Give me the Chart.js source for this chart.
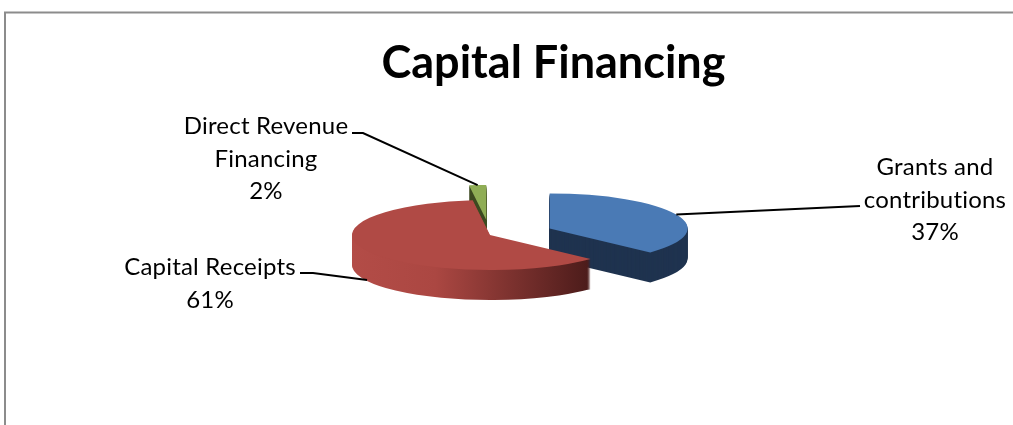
<!DOCTYPE html>
<html>
<head>
<meta charset="utf-8">
<script src="https://cdn.jsdelivr.net/npm/chart.js@4/dist/chart.umd.min.js"></script>
<style>
  html, body { margin: 0; padding: 0; background: #fff; }
  canvas { display: block; }
</style>
</head>
<body>
<canvas id="myChart" width="1013" height="425"></canvas>
<script>
const categories = [["Grants and", "contributions"], ["Capital Receipts"], ["Direct Revenue", "Financing"]];
const shares = [37, 61, 2];
const topColors = ["#4a7ab5", "#b04a45", "#8fad55"];
const sideColors = ["#1f334f", ["#b34c47", "#ab4742", "#4b1b1a"], "#3e4b22"];
const explode = [65, 0, 59];

// label layout: text centre x, first baseline y, leader points (from pie outwards)
const labelLayout = [
    { x: 935, y: 175, leader: [[860, 206]], depth: 0 },
    { x: 210, y: 275, leader: [[313, 273], [300, 273]], depth: 29 },
    { x: 266, y: 134, leader: [[363, 133], [352, 133]], depth: 0 },
];

const pieX = 490;
const pieY = 235;
const tilt = 0.254;
const depth = 30;
const drawOrder = [2, 0, 1];

const ctx = document.querySelector("#myChart");

// flat pie -> tilted view, slice pushed out along its middle angle
function project(c, arc, i, d) {
    const mid = (arc.startAngle + arc.endAngle) / 2;
    c.translate(pieX, pieY + d);
    c.scale(1, tilt);
    c.translate(Math.cos(mid) * explode[i] - arc.x, Math.sin(mid) * explode[i] - arc.y);
}

function sideFill(c, arc, i) {
    const col = sideColors[i];
    if (!Array.isArray(col)) return col;
    const r = arc.outerRadius;
    const g = c.createLinearGradient(arc.x - r, 0, arc.x + r * 0.73, 0);
    g.addColorStop(0, col[0]);
    g.addColorStop(0.35, col[1]);
    g.addColorStop(1, col[2]);
    return g;
}

function rimPoint(arc, i, d) {
    const mid = (arc.startAngle + arc.endAngle) / 2;
    const px = Math.cos(mid) * (explode[i] + arc.outerRadius);
    const py = Math.sin(mid) * (explode[i] + arc.outerRadius);
    return [pieX + px, pieY + d + py * tilt];
}

const pie3d = {
    id: "pie3d",
    beforeDraw: (chart) => {
        const c = chart.ctx;
        c.save();
        c.strokeStyle = "#8c8c8c";
        c.lineWidth = 2;
        c.strokeRect(5, 12.5, 1100, 500);
        c.restore();
    },
    beforeDatasetsDraw: (chart) => {
        const c = chart.ctx;
        const meta = chart.getDatasetMeta(0);
        drawOrder.forEach((i) => {
            const arc = meta.data[i];
            const saved = arc.options;
            for (let d = depth; d > 0; d--) {
                c.save();
                project(c, arc, i, d);
                arc.options = Object.assign({}, saved, { backgroundColor: sideFill(c, arc, i), borderWidth: 0 });
                arc.draw(c);
                c.restore();
            }
            arc.options = saved;
            c.save();
            project(c, arc, i, 0);
            arc.draw(c);
            c.restore();
        });
        return false;
    },
    afterDraw: (chart) => {
        const c = chart.ctx;
        const meta = chart.getDatasetMeta(0);
        const total = shares.reduce((a, b) => a + b, 0);
        c.save();
        meta.data.forEach((arc, i) => {
            const lay = labelLayout[i];
            const start = rimPoint(arc, i, lay.depth);
            c.beginPath();
            c.strokeStyle = "#000";
            c.lineWidth = 2;
            c.moveTo(start[0], start[1]);
            lay.leader.forEach((p) => c.lineTo(p[0], p[1]));
            c.stroke();

            const lines = categories[i].concat([Math.round((shares[i] / total) * 100) + "%"]);
            c.fillStyle = "#000";
            c.font = "24px Lato";
            c.letterSpacing = "0.2px";
            c.textAlign = "center";
            c.textBaseline = "alphabetic";
            lines.forEach((t, k) => c.fillText(t, lay.x, lay.y + k * 32.5));
        });
        c.restore();
    },
};

new Chart(ctx, {
    type: "pie",
    data: {
        labels: categories,
        datasets: [
            {
                data: shares,
                backgroundColor: topColors,
                borderWidth: 0,
                radius: 138,
            },
        ],
    },
    options: {
        responsive: false,
        animation: false,
        layout: {
            padding: { left: 94, right: 0, top: 0, bottom: 0 },
        },
        plugins: {
            legend: false,
            tooltip: { enabled: false },
            title: {
                display: true,
                text: "Capital Financing",
                color: "#000",
                font: { family: "Lato", size: 45, weight: "bold", lineHeight: 1.2 },
                padding: { top: 36, bottom: 0 },
            },
        },
    },
    plugins: [pie3d],
});
</script>
</body>
</html>
